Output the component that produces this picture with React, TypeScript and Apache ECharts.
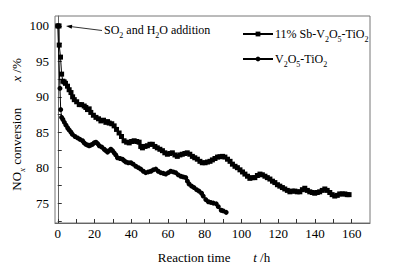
import React, { useEffect, useRef } from "react";
import * as echarts from "echarts";

const sbTime = [0, 0.7, 0.8, 1.5, 2.1, 2.8, 3.5, 4.2, 5.3, 6.2, 7.2, 8.1, 9, 10.3, 11.7, 13, 14.4, 15.3, 16.2, 17.1, 18, 19.4, 20.8, 22.2, 23.5, 24.9, 26.2, 27.1, 28, 29.4, 30.7, 32, 33.4, 34.7, 36.1, 37.5, 38.9, 40.2, 41.6, 43, 44.3, 45.2, 46.1, 47.5, 48.8, 50.2, 51.5, 52.9, 54.2, 55.6, 57, 58.3, 59.7, 61, 62.4, 63.8, 65.1, 66.5, 67.8, 69.2, 70.5, 71.9, 73.3, 74.6, 76, 77.4, 78.7, 80.2, 81.5, 82.9, 84.2, 85.6, 87, 88.3, 89.7, 91, 92.4, 93.8, 95.1, 96.5, 97.8, 99.2, 100.6, 101.9, 103.3, 104.6, 106, 107.3, 108.7, 110.1, 111.4, 112.8, 114.1, 115.5, 116.9, 118.2, 119.6, 120.9, 122.3, 123.6, 125, 126.4, 127.7, 129.1, 130.4, 131.8, 133.2, 134.5, 135.9, 137.2, 138.6, 139.9, 141.3, 142.6, 144, 145.4, 146.7, 148.1, 149.4, 150.8, 152.2, 153.5, 154.9, 156.3, 157.6, 158.6];
const sbValue = [100, 100, 97.3, 95.6, 93.2, 92.2, 92.1, 91.9, 91.5, 91.0, 90.6, 90.0, 89.6, 89.3, 88.9, 88.9, 88.7, 88.5, 88.2, 88.3, 87.8, 87.4, 87.1, 86.9, 86.6, 86.7, 86.4, 86.5, 86.3, 86.2, 85.9, 85.4, 84.9, 84.4, 83.8, 83.6, 83.5, 83.7, 83.8, 83.7, 83.6, 83.0, 82.8, 83.0, 83.1, 83.3, 83.3, 83.0, 82.8, 82.6, 82.4, 82.1, 81.9, 82.0, 82.1, 81.8, 81.6, 81.8, 81.9, 82.0, 82.1, 81.9, 81.6, 81.4, 81.2, 80.9, 80.7, 80.7, 80.8, 80.9, 81.1, 81.3, 81.5, 81.55, 81.6, 81.5, 81.2, 80.9, 80.5, 80.2, 80.0, 79.7, 79.4, 79.1, 78.8, 78.5, 78.6, 78.6, 78.9, 79.1, 79.0, 78.8, 78.6, 78.4, 78.1, 77.9, 77.6, 77.4, 77.2, 77.0, 76.8, 76.6, 76.7, 76.7, 76.6, 76.6, 76.9, 77.1, 76.8, 76.6, 76.5, 76.4, 76.5, 76.6, 76.8, 77.0, 76.8, 76.5, 76.2, 76.0, 76.1, 76.3, 76.3, 76.3, 76.2, 76.2];

const vTime = [0, 1.2, 1.6, 2.1, 2.8, 3.6, 4.5, 5.4, 6.3, 7.2, 8, 9.4, 10.8, 12.1, 13.5, 14.4, 15.3, 16.2, 17.1, 18, 18.9, 19.8, 20.8, 21.7, 22.6, 24, 25.3, 26.2, 27.1, 28, 28.9, 29.8, 30.7, 31.6, 32.5, 33.9, 35.2, 36.1, 37.1, 38.4, 39.8, 41.1, 42.5, 43.9, 45.2, 46.6, 47.9, 49.3, 50.7, 52, 53.4, 54.7, 56.1, 57.5, 58.8, 60.2, 61.5, 62.9, 64.2, 65.6, 67, 68.3, 69.7, 70.6, 71.5, 72.9, 74.2, 75.6, 76.9, 78.3, 79.2, 80.6, 82, 83.3, 84.7, 86.3, 87.4, 89, 90.1, 91.7];
const vValue = [100, 91.2, 88.2, 87.1, 86.8, 86.4, 86.0, 85.6, 85.3, 85.0, 84.7, 84.4, 84.2, 84.0, 83.8, 83.5, 83.3, 83.2, 83.1, 83.2, 83.3, 83.5, 83.6, 83.4, 83.1, 82.9, 82.6, 82.4, 82.2, 82.4, 82.6, 82.4, 82.1, 81.8, 81.4, 81.3, 81.2, 81.0, 80.8, 80.7, 80.7, 80.5, 80.2, 80.0, 79.8, 79.5, 79.3, 79.4, 79.5, 79.7, 79.8, 79.5, 79.3, 79.2, 79.1, 79.3, 79.5, 79.4, 79.3, 79.0, 78.8, 78.7, 78.6, 78.1, 77.7, 77.4, 77.2, 76.9, 76.7, 76.4, 76.0, 75.5, 75.2, 75.1, 75.0, 74.9, 74.5, 74.0, 73.9, 73.7];

const seriesNames = ["11% Sb-V2O5-TiO2", "V2O5-TiO2"];
const legendLabels = ["11% Sb-V{s|2}O{s|5}-TiO{s|2}", "V{s|2}O{s|5}-TiO{s|2}"];
const xTickValues = [0, 10, 20, 30, 40, 50, 60, 70, 80, 90, 100, 110, 120, 130, 140, 150, 160];
const xLabelValues = [0, 20, 40, 60, 80, 100, 120, 140, 160];
const yTickValues = [72.5, 75, 77.5, 80, 82.5, 85, 87.5, 90, 92.5, 95, 97.5, 100];
const yLabelValues = [75, 80, 85, 90, 95, 100];
const annotationText = "SO{s|2} and H{s|2}O addition";
const xName = "Reaction time       {i|t} /h";
const yName = "NO{si|x} conversion        {i|x} /%";

const FONT = "'Liberation Serif', 'Times New Roman', 'DejaVu Serif', serif";

const pairs = (t: number[], v: number[]) => t.map((x, i) => [x, v[i]]);

export default function App() {
  const ref = useRef<HTMLDivElement>(null);
  useEffect(() => {
    if (!ref.current) return;
    const chart = echarts.init(ref.current, null, { renderer: "svg" });
    const base = { fontFamily: FONT, color: "#000" };
    const sub = { fontFamily: FONT, fontSize: 8, lineHeight: 8, verticalAlign: "bottom", color: "#000", padding: [0, 0, -2, 0] };
    const rich = {
      s: sub,
      si: { ...sub, fontSize: 9, lineHeight: 9, fontStyle: "italic" },
      i: { fontFamily: FONT, fontSize: 13, fontStyle: "italic", color: "#000", lineHeight: 15 },
    };
    const axisLineStyle = { color: "#666", width: 1 };
    chart.setOption({
      animation: false,
      backgroundColor: "#fff",
      grid: {
        left: 55, top: 16, right: 36, bottom: 47,
        containLabel: false, outerBoundsMode: "none",
        show: true, borderColor: "#777", borderWidth: 1, backgroundColor: "transparent",
      },
      legend: {
        orient: "vertical",
        left: 237,
        top: 22,
        itemWidth: 30,
        itemHeight: 6,
        itemGap: 9,
        data: seriesNames,
        formatter: (name: string) => legendLabels[seriesNames.indexOf(name)],
        textStyle: { ...base, fontSize: 12, lineHeight: 14, padding: [0, 0, 0, -3], rich: { s: sub } },
      },
      xAxis: {
        type: "value",
        min: -1.5,
        max: 170,
        splitLine: { show: false },
        axisLine: { show: true, lineStyle: axisLineStyle },
        axisTick: { show: true, inside: true, length: 4, customValues: xTickValues, lineStyle: { color: "#333" } },
        axisLabel: { ...base, fontSize: 13, margin: 4, customValues: xLabelValues },
        name: xName,
        nameLocation: "middle",
        nameGap: 27,
        nameMoveOverlap: false,
        nameTextStyle: { ...base, fontSize: 13, lineHeight: 15, padding: [0, 0, 0, 3], rich },
      },
      yAxis: {
        type: "value",
        min: 72.2,
        max: 101.4,
        splitLine: { show: false },
        axisLine: { show: true, lineStyle: axisLineStyle },
        axisTick: { show: true, inside: true, length: 4, customValues: yTickValues, lineStyle: { color: "#333" } },
        axisLabel: { ...base, fontSize: 13, margin: 6, customValues: yLabelValues },
        name: yName,
        nameLocation: "middle",
        nameRotate: 90,
        nameGap: 31,
        nameMoveOverlap: false,
        nameTextStyle: { ...base, fontSize: 13, lineHeight: 15, padding: [0, 10, 0, 0], rich },
      },
      series: [
        {
          name: seriesNames[0],
          type: "line",
          data: pairs(sbTime, sbValue),
          symbol: "rect",
          symbolSize: 5,
          showAllSymbol: true,
          lineStyle: { color: "#000", width: 1 },
          itemStyle: { color: "#000" },
        },
        {
          name: seriesNames[1],
          type: "line",
          data: pairs(vTime, vValue),
          symbol: "circle",
          symbolSize: 5,
          showAllSymbol: true,
          lineStyle: { color: "#000", width: 1 },
          itemStyle: { color: "#000" },
        },
      ],
      graphic: [
        { type: "line", shape: { x1: 102, y1: 30.5, x2: 71, y2: 26.6 }, style: { stroke: "#333", lineWidth: 1 } },
        { type: "polygon", shape: { points: [[66, 26], [72.2, 24.8], [71.7, 28.7]] }, style: { fill: "#000" } },
        {
          type: "text",
          left: 104,
          top: 23,
          style: { text: annotationText, fontFamily: FONT, fontSize: 12, lineHeight: 14, fill: "#000", rich: { s: sub } },
        },
      ],
    });
    return () => chart.dispose();
  }, []);
  return <div ref={ref} style={{ width: 406, height: 270, position: "absolute", left: 0, top: 0 }} />;
}
